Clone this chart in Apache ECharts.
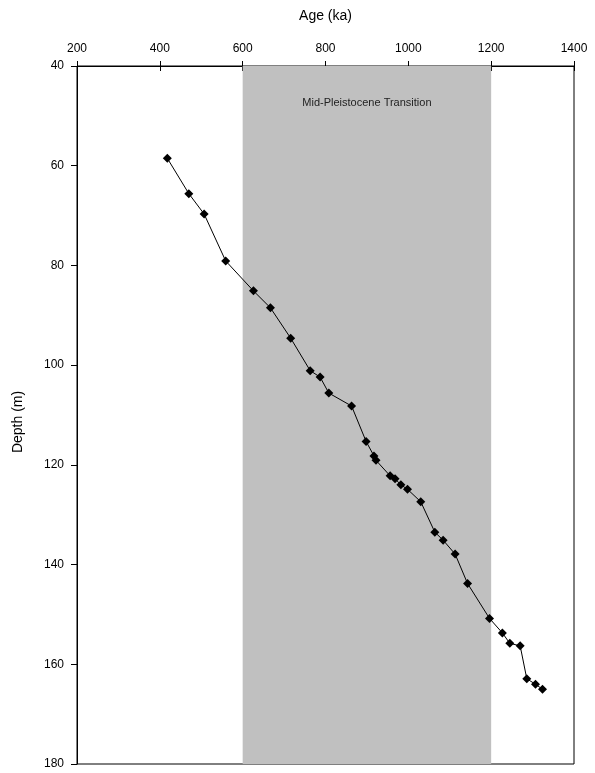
<!DOCTYPE html>
<html>
<head>
<meta charset="utf-8">
<script src="https://cdn.jsdelivr.net/npm/echarts@6/dist/echarts.min.js"></script>
<style>
  html, body { margin: 0; padding: 0; background: #fff; }
  #chart { width: 595px; height: 773px; }
</style>
</head>
<body>
<div id="chart"></div>
<script>
// age (ka) vs depth (m)
const ages = [418, 470, 507, 559, 626, 667, 716, 763, 787, 808, 863, 898, 917, 922, 956, 968,
  982, 998, 1030, 1064, 1084, 1113, 1143, 1196, 1227, 1245, 1270, 1286, 1307, 1324]
const depths = [58.5, 65.6, 69.7, 79.1, 85.1, 88.5, 94.6, 101.1, 102.4, 105.6, 108.2, 115.3, 118.2, 119.1, 122.2, 122.8,
  124.0, 124.9, 127.4, 133.5, 135.1, 137.9, 143.8, 150.8, 153.7, 155.8, 156.3, 162.9, 164.0, 165.0]

// shaded interval
const mptRange = [600, 1200]
const mptLabel = 'Mid-Pleistocene Transition'

const ageTicks = [200, 1400, 200]    // min, max, step
const depthTicks = [40, 180, 20]

const points = ages.map((a, i) => [a, depths[i]])

const font = 'Liberation Sans, Arial, sans-serif'
const plain = v => String(v)   // no thousands separator

const chart = echarts.init(document.getElementById('chart'))
chart.setOption({
  animation: false,
  grid: {
    left: 77, right: 21, top: 66, bottom: 9,
    show: true, borderColor: '#000', borderWidth: 1, backgroundColor: 'transparent'
  },
  xAxis: [
    {
      type: 'value', position: 'top',
      min: ageTicks[0], max: ageTicks[1], interval: ageTicks[2],
      name: 'Age (ka)', nameLocation: 'middle', nameGap: 43,
      nameTextStyle: { fontFamily: font, fontSize: 14, color: '#000' },
      axisLine: { lineStyle: { color: '#000', width: 1 } },
      axisTick: { inside: false, length: 5, lineStyle: { color: '#000' } },
      axisLabel: { fontFamily: font, fontSize: 12, color: '#000', margin: 11, formatter: plain },
      splitLine: { show: false }
    },
    {
      // second copy only for the inner half of the crossing ticks
      type: 'value', position: 'top',
      min: ageTicks[0], max: ageTicks[1], interval: ageTicks[2],
      axisLine: { show: false },
      axisTick: { inside: true, length: 5, lineStyle: { color: '#000' } },
      axisLabel: { show: false },
      splitLine: { show: false }
    }
  ],
  yAxis: {
    type: 'value', inverse: true,
    min: depthTicks[0], max: depthTicks[1], interval: depthTicks[2],
    name: 'Depth (m)', nameLocation: 'middle', nameGap: 52, nameRotate: 90,
    nameTextStyle: { fontFamily: font, fontSize: 14, color: '#000', padding: [0, 14, 0, 0] },
    axisLine: { lineStyle: { color: '#000', width: 1 } },
    axisTick: { length: 6, lineStyle: { color: '#000' } },
    axisLabel: { fontFamily: font, fontSize: 12, color: '#000', margin: 13, formatter: plain },
    splitLine: { show: false }
  },
  series: [
    {
      type: 'line',
      xAxisIndex: 0,
      data: points,
      symbol: 'diamond',
      symbolSize: 9,
      itemStyle: { color: '#000' },
      lineStyle: { color: '#000', width: 1 },
      z: 3,
      markArea: {
        silent: true,
        itemStyle: { color: '#c0c0c0' },
        label: {
          show: true, position: 'insideTop', distance: 31,
          color: '#222', fontFamily: font, fontSize: 11
        },
        data: [[
          { name: mptLabel, xAxis: mptRange[0], yAxis: depthTicks[0] },
          { xAxis: mptRange[1], yAxis: depthTicks[1] }
        ]]
      }
    }
  ]
})
</script>
</body>
</html>
